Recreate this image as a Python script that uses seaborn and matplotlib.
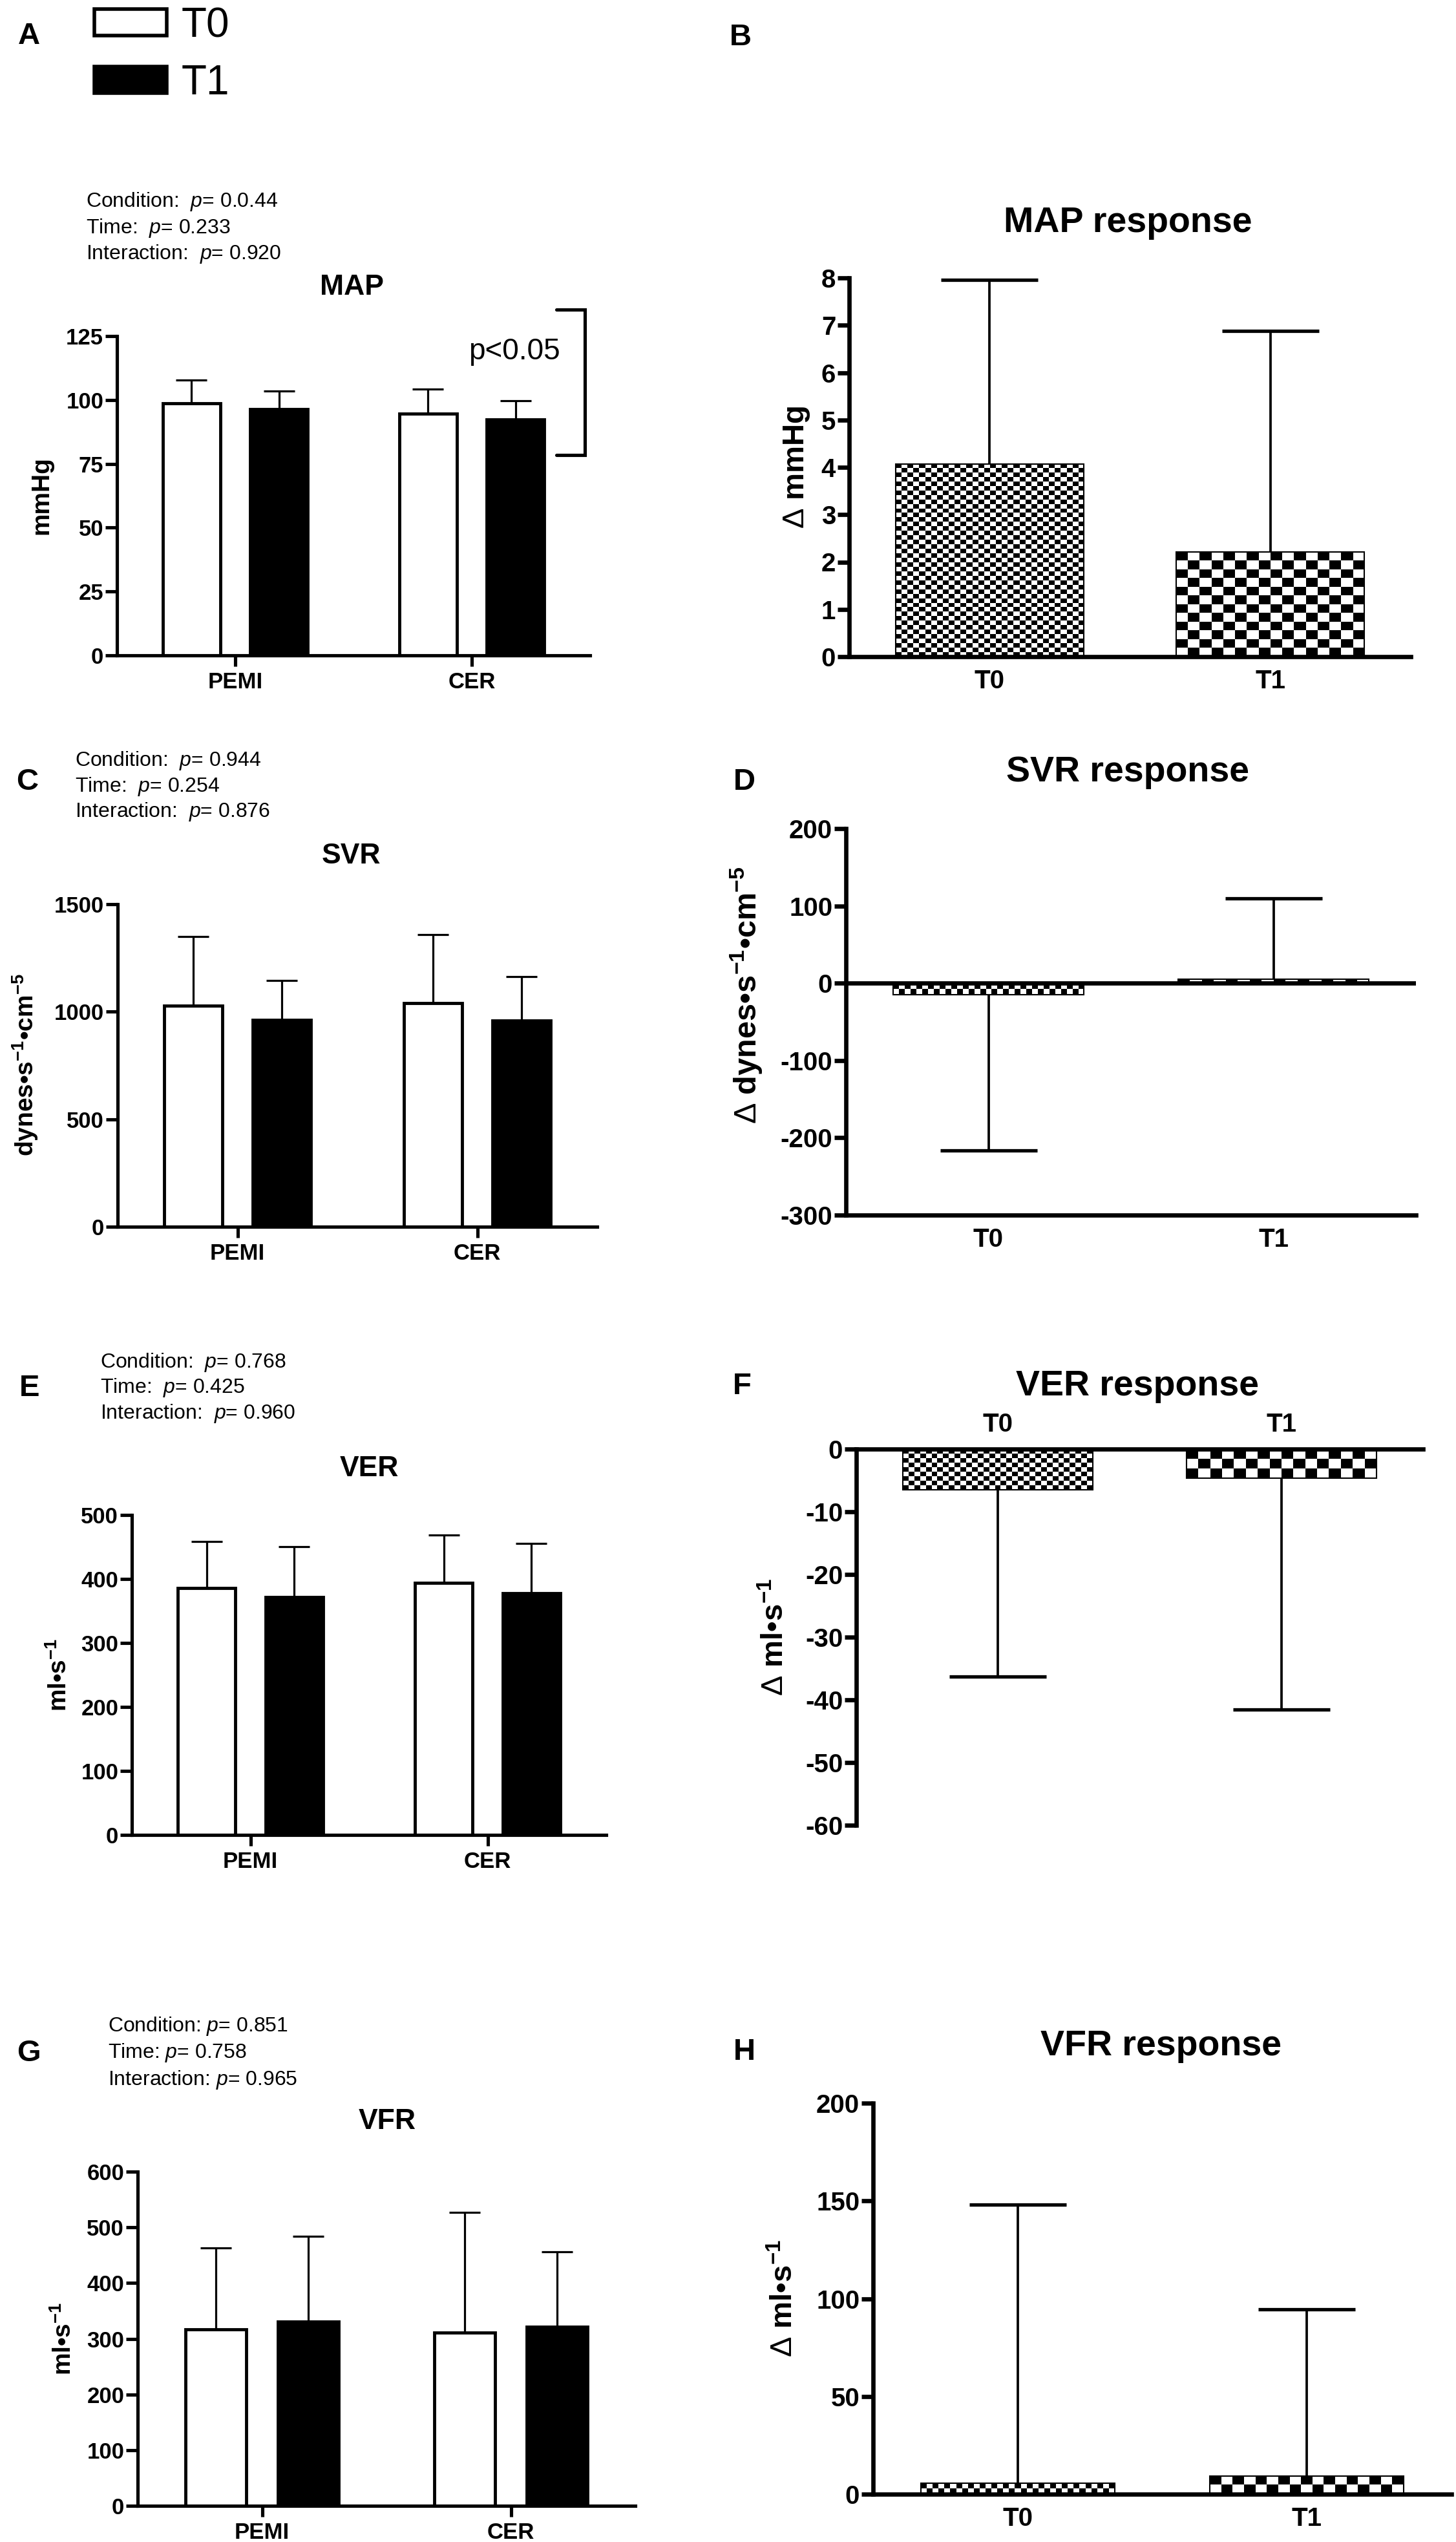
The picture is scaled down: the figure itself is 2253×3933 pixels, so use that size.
import numpy as np
import pandas as pd
import matplotlib
matplotlib.use("Agg")
import matplotlib.pyplot as plt
from matplotlib.patches import Patch
import seaborn as sns

W, H, DPI = 2253, 3933, 100

# -----------------------------
# data
# -----------------------------
conditions = ["PEMI", "CER"]
times = ["T0", "T1"]

# group means / SD, order: PEMI-T0, PEMI-T1, CER-T0, CER-T1
map_mean = [98.8, 96.5, 94.7, 92.4]
map_sd = [8.9, 6.9, 9.5, 7.4]
svr_mean = [1028, 962, 1039, 959]
svr_sd = [323, 182, 320, 204]
ver_mean = [386, 372, 394, 378]
ver_sd = [73, 79, 74.5, 77.5]
vfr_mean = [317, 331, 311, 322]
vfr_sd = [146, 153, 216, 134]

# responses (delta) per time, order: T0, T1
map_delta = [4.07, 2.21]
map_delta_sd = [3.89, 4.67]
svr_delta = [-14.5, 4.8]
svr_delta_sd = [201.5, 105.2]
ver_delta = [-6.46, -4.6]
ver_delta_sd = [29.8, 36.9]
vfr_delta = [5.6, 9.3]
vfr_delta_sd = [142.4, 85.1]

map_stats = ["Condition:  $p$= 0.0.44", "Time:  $p$= 0.233", "Interaction:  $p$= 0.920"]
svr_stats = ["Condition:  $p$= 0.944", "Time:  $p$= 0.254", "Interaction:  $p$= 0.876"]
ver_stats = ["Condition:  $p$= 0.768", "Time:  $p$= 0.425", "Interaction:  $p$= 0.960"]
vfr_stats = ["Condition: $p$= 0.851", "Time: $p$= 0.758", "Interaction: $p$= 0.965"]

# -----------------------------
# style
# -----------------------------
sns.set_style("ticks", {"axes.edgecolor": "black", "xtick.color": "black",
                        "ytick.color": "black", "text.color": "black"})
FAMILY = ["Liberation Sans", "DejaVu Sans"]
plt.rcParams["font.family"] = FAMILY
plt.rcParams["font.weight"] = "bold"
plt.rcParams["axes.unicode_minus"] = False
plt.rcParams["mathtext.fontset"] = "custom"
plt.rcParams["mathtext.rm"] = "Liberation Sans:normal"
plt.rcParams["mathtext.it"] = "Liberation Sans:italic:normal"
plt.rcParams["mathtext.bf"] = "Liberation Sans:bold"

fig = plt.figure(figsize=(W / DPI, H / DPI), dpi=DPI)


def fx(px):
    return px / W


def fy(py):
    return 1 - py / H


def make_axes(box):
    l, t, r, b = box
    return fig.add_axes([fx(l), fy(b), (r - l) / W, (b - t) / H])


def checker(ax, bar, cell):
    x0, y0 = bar.get_x(), bar.get_y()
    x1, y1 = x0 + bar.get_width(), y0 + bar.get_height()
    (px0, py0), (px1, py1) = ax.transData.transform([(x0, y0), (x1, y1)])
    nx = max(1, int(round(abs(px1 - px0) / cell[0])))
    ny = max(1, int(round(abs(py1 - py0) / cell[1])))
    pattern = np.add.outer(np.arange(ny), np.arange(nx)) % 2
    ax.imshow(pattern, cmap="gray", vmin=0, vmax=1, aspect="auto",
              interpolation="nearest", zorder=1.5,
              extent=(x0, x1, min(y0, y1), max(y0, y1)))
    bar.set_facecolor("none")
    bar.set_zorder(1.6)


def header(letter, letter_xy, title, title_xy, title_size, ylabel, ylabel_xy, ylabel_size):
    fig.text(fx(letter_xy[0]), fy(letter_xy[1]), letter, fontsize=34,
             ha="center", va="center")
    fig.text(fx(title_xy[0]), fy(title_xy[1]), title, fontsize=title_size,
             ha="center", va="center")
    fig.text(fx(ylabel_xy[0]), fy(ylabel_xy[1]), ylabel, fontsize=ylabel_size,
             rotation=90, ha="center", va="center")


def group_panel(box, mean, sd, ylim, yticks, stats, stats_x, stats_y):
    ax = make_axes(box)
    df = pd.DataFrame({"Condition": np.repeat(conditions, 2),
                       "Time": times * 2, "Value": mean})
    sns.barplot(data=df, x="Condition", y="Value", hue="Time",
                order=conditions, hue_order=times,
                palette={"T0": "white", "T1": "black"}, saturation=1,
                edgecolor="black", linewidth=3.5, width=0.74, gap=0.34,
                errorbar=None, legend=False, ax=ax)
    bars = sorted(ax.patches, key=lambda p: p.get_x())
    xs = np.array([p.get_x() + p.get_width() / 2 for p in bars])
    ys = np.array([p.get_height() for p in bars])
    ends = ys + np.array(sd)
    ax.vlines(xs, ys, ends, color="black", lw=2.3, zorder=3)
    ax.plot(xs, ends, ls="none", marker="_", ms=34, mew=2.3, color="black", zorder=3)

    ax.set_xlim(-0.5, 1.5)
    ax.set_ylim(*ylim)
    ax.set_yticks(yticks)
    ax.set_xlabel("")
    ax.set_ylabel("")
    sns.despine(ax=ax)
    for s in ["left", "bottom"]:
        ax.spines[s].set_linewidth(3.7)
    ax.tick_params(axis="y", length=13, width=3.7, labelsize=25, pad=2)
    ax.tick_params(axis="x", length=12, width=3.7, labelsize=25, pad=6)

    for line, yy in zip(stats, stats_y):
        fig.text(fx(stats_x), fy(yy), line, fontsize=23, fontweight="normal",
                 ha="left", va="center")
    return ax


def response_panel(box, delta, sd, ylim, yticks, top_axis=False, zero_line=False):
    ax = make_axes(box)
    df = pd.DataFrame({"Time": times, "Delta": delta})
    sns.barplot(data=df, x="Time", y="Delta", order=times, color="white",
                saturation=1, edgecolor="black", linewidth=1.5, width=0.67,
                errorbar=None, ax=ax)
    ax.set_xlim(-0.5, 1.5)
    ax.set_ylim(*ylim)
    bars = sorted(ax.patches, key=lambda p: p.get_x())
    for bar, cell in zip(bars, [(9, 7), (18, 13)]):
        checker(ax, bar, cell)
    ax.set_xlim(-0.5, 1.5)
    ax.set_ylim(*ylim)

    xs = np.array([p.get_x() + p.get_width() / 2 for p in bars])
    ys = np.array([p.get_y() + p.get_height() for p in bars])
    ends = ys + np.sign(ys) * np.array(sd)
    ax.vlines(xs, ys, ends, color="black", lw=2.7, zorder=3)
    ax.plot(xs, ends, ls="none", marker="_", ms=108, mew=3.8, color="black", zorder=3)

    ax.set_yticks(yticks)
    ax.set_xlabel("")
    ax.set_ylabel("")
    sns.despine(ax=ax, top=not top_axis, bottom=top_axis)
    for s in ["left", "bottom", "top"]:
        ax.spines[s].set_linewidth(4.8)
    if top_axis:
        ax.xaxis.set_ticks_position("top")
    if zero_line:
        ax.axhline(0, color="black", lw=4.8, zorder=4)
    ax.tick_params(axis="y", length=13, width=4.8, labelsize=29, pad=2)
    ax.tick_params(axis="x", length=0, labelsize=29, pad=14)
    return ax


# -----------------------------
# A / B : MAP
# -----------------------------
axA = group_panel((181, 520, 913, 1014), map_mean, map_sd, (0, 125),
                  [0, 25, 50, 75, 100, 125], map_stats, 133, [312, 353, 393])
header("A", (45, 56), "MAP", (544, 444), 32, "mmHg", (64, 767), 28)
axA.plot([1.357, 1.477, 1.477, 1.357], [135.5, 135.5, 78.5, 78.5],
         color="black", lw=3.7, clip_on=False, solid_joinstyle="miter")
axA.text(1.18, 119, "p<0.05", fontsize=33, fontweight="normal",
         ha="center", va="center")

handles = [Patch(facecolor="white", edgecolor="black", linewidth=4, label="T0"),
           Patch(facecolor="black", edgecolor="black", linewidth=4, label="T1")]
fig.legend(handles=handles, loc="upper left", bbox_to_anchor=(fx(146), fy(10)),
           frameon=False, prop={"size": 46, "weight": "normal"},
           handlelength=1.75, handleheight=0.6, labelspacing=0.45,
           handletextpad=0.35, borderpad=0, borderaxespad=0)

response_panel((1314, 430, 2183, 1016), map_delta, map_delta_sd, (0, 8),
               range(0, 9))
header("B", (1146, 58), "MAP response", (1745, 345), 40,
       r"$\mathrm{\Delta}$ mmHg", (1233, 723), 34)

# -----------------------------
# C / D : SVR
# -----------------------------
group_panel((182, 1399, 924, 1898), svr_mean, svr_sd, (0, 1500),
            [0, 500, 1000, 1500], svr_stats, 116, [1177, 1217, 1256])
header("C", (42, 1210), "SVR", (543, 1325), 32,
       r"dynes•s$^{\mathbf{-1}}$•cm$^{\mathbf{-5}}$", (39, 1648), 28)

response_panel((1309, 1282, 2191, 1880), svr_delta, svr_delta_sd, (-300, 200),
               range(-300, 201, 100), zero_line=True)
header("D", (1152, 1210), "SVR response", (1745, 1195), 40,
       r"$\mathrm{\Delta}$ dynes•s$^{\mathbf{-1}}$•cm$^{\mathbf{-5}}$", (1155, 1540), 35)

# -----------------------------
# E / F : VER
# -----------------------------
group_panel((204, 2344, 938, 2839), ver_mean, ver_sd, (0, 500),
            range(0, 501, 100), ver_stats, 155, [2108, 2147, 2187])
header("E", (46, 2148), "VER", (571, 2272), 32,
       r"ml•s$^{\mathbf{-1}}$", (92, 2591), 28)

response_panel((1325, 2242, 2202, 2824), ver_delta, ver_delta_sd, (-60, 0),
               range(-60, 1, 10), top_axis=True)
header("F", (1148, 2145), "VER response", (1760, 2145), 40,
       r"$\mathrm{\Delta}$ ml•s$^{\mathbf{-1}}$", (1200, 2533), 34)

# -----------------------------
# G / H : VFR
# -----------------------------
group_panel((213, 3360, 983, 3877), vfr_mean, vfr_sd, (0, 600),
            range(0, 601, 100), vfr_stats, 167, [3135, 3176, 3218])
header("G", (44, 3177), "VFR", (599, 3282), 32,
       r"ml•s$^{\mathbf{-1}}$", (99, 3618), 28)

response_panel((1351, 3254, 2246, 3859), vfr_delta, vfr_delta_sd, (0, 200),
               range(0, 201, 50))
header("H", (1152, 3175), "VFR response", (1797, 3166), 40,
       r"$\mathrm{\Delta}$ ml•s$^{\mathbf{-1}}$", (1214, 3556), 34)

fig.savefig("out.png", dpi=DPI, facecolor="white")
plt.close(fig)
